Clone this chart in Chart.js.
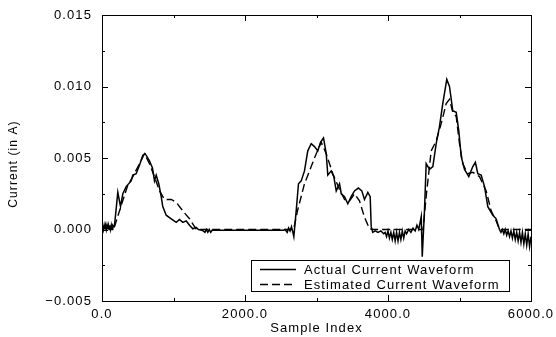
<!DOCTYPE html>
<html>
<head>
<meta charset="utf-8">
<script src="https://cdn.jsdelivr.net/npm/chart.js@4.4.1/dist/chart.umd.min.js"></script>
<style>
  html, body { margin: 0; padding: 0; background: #fff; }
  canvas { display: block; }
</style>
</head>
<body>
<canvas id="forma" width="556" height="337"></canvas>
<script>
// dados (indice da amostra -> corrente em A)
const amostraReal = [
  0, 10, 20, 30, 40, 50, 60, 70, 80, 90, 100, 110, 120, 130, 140, 150, 165,
  175, 221, 259, 291, 338, 408, 431, 478, 524, 571, 604, 664, 706, 734, 758, 794, 828, 850, 898, 968, 1038, 1084, 1130, 1178, 1224, 1270, 1317, 1350,
  1400, 1440, 1460, 1480, 1500, 1520, 1540, 2540,
  2560, 2590, 2610, 2630, 2650, 2665, 2683, 2716, 2748, 2786, 2832, 2878, 2926, 2972, 3018, 3056, 3098, 3136, 3158, 3206, 3242, 3276, 3322, 3346, 3392, 3438, 3485, 3531, 3585, 3634, 3671, 3718, 3751, 3765, 3787,
  3820, 3860, 3900, 3940, 3960, 3980, 4000, 4020, 4040, 4060, 4080, 4100, 4120, 4140, 4160, 4180, 4200, 4220, 4240, 4260, 4290, 4320, 4350, 4380, 4405, 4430, 4465, 4479,
  4510, 4534, 4581, 4627, 4674, 4720, 4766, 4822, 4860, 4906, 4954, 4990, 5024, 5070, 5130, 5186, 5222, 5256, 5303, 5350, 5396, 5466, 5513, 5559,
  5580, 5600, 5620, 5640, 5660, 5680, 5700, 5720, 5740, 5760, 5780, 5800, 5820, 5840, 5860, 5880, 5900, 5920, 5940, 5960, 5980, 6000
];
const correnteReal = [
  0.0001, 0.0003, 0.0000, 0.0003, 0.0000, 0.0003, 0.0000, 0.0003, 0.0000, 0.0003, 0.0000, 0.0003, 0.0000, 0.0003, 0.0000, 0.0003, 0.0002,
  0.0003, 0.0026, 0.0016, 0.0025, 0.0030, 0.0034, 0.0038, 0.0039, 0.0045, 0.0052, 0.0053, 0.0048, 0.0043, 0.0034, 0.0038, 0.0032, 0.0023, 0.0016, 0.0010, 0.00075, 0.0005, 0.0007, 0.0005, 0.0006, 0.0003, 0.00005, 0.00015, 0.0000,
  -0.00005, -0.0002, 0.0000, -0.0002, 0.0000, -0.0002, -0.00005, -0.00005,
  0.0000, -0.0002, 0.0001, -0.0001, 0.0002, -0.0001, -0.0005, 0.0013, 0.0032, 0.0034, 0.0041, 0.0055, 0.0060, 0.0058, 0.0055, 0.0061, 0.0064, 0.0053, 0.0038, 0.0041, 0.0037, 0.0027, 0.0032, 0.0025, 0.0023, 0.0018, 0.0023, 0.0027, 0.0029, 0.0027, 0.0021, 0.0026, 0.0023, 0.0002, -0.0002,
  -0.0001, -0.0002, -0.0001, -0.0003, -0.0002, -0.0005, -0.0001, -0.0006, -0.0002, -0.0007, -0.0002, -0.0008, -0.0002, -0.0008, -0.0002, -0.0007, -0.0001, -0.0006, -0.0001, -0.0003, 0.0000, -0.0002, 0.0001, -0.0001, 0.0003, 0.0000, 0.0009, -0.0019,
  0.0013, 0.0046, 0.0042, 0.0044, 0.0060, 0.0072, 0.0088, 0.0105, 0.0100, 0.0083, 0.0082, 0.0069, 0.0051, 0.0042, 0.0037, 0.0044, 0.0047, 0.0039, 0.0038, 0.0030, 0.0016, 0.0010, 0.00075, 0.0000,
  -0.0002, 0.0000, -0.0003, 0.0000, -0.0004, -0.0001, -0.0005, -0.0001, -0.0006, -0.0001, -0.0007, -0.0002, -0.0008, -0.0002, -0.0009, -0.0002, -0.0010, -0.0003, -0.0011, -0.0003, -0.0012, -0.0005
];

const amostraEstimada = [
  0, 175, 315, 361, 431, 524, 594, 664, 734, 804, 874, 968, 1038, 1130, 1224, 1294, 1322,
  2680, 2734, 2832, 2926, 2996, 3066, 3136, 3228, 3322, 3392, 3462, 3531, 3601, 3671, 3741, 3800,
  4490, 4538, 4604, 4674, 4744, 4814, 4860, 4906, 4954, 5000, 5046, 5116, 5186, 5280, 5373, 5443, 5513, 5559, 6000
];
const correnteEstimada = [
  0.0001, 0.0002, 0.0024, 0.0031, 0.0037, 0.0046, 0.0053, 0.0046, 0.0037, 0.0027, 0.0021, 0.0021, 0.0019, 0.0013, 0.00075, 0.0002, 0.0000,
  0.0000, 0.0013, 0.0032, 0.0044, 0.0053, 0.0061, 0.0053, 0.0039, 0.0028, 0.0021, 0.0020, 0.0025, 0.0020, 0.00086, 0.00005, 0.0000,
  0.0000, 0.0025, 0.0055, 0.0062, 0.0074, 0.0088, 0.0091, 0.0082, 0.0079, 0.0060, 0.0046, 0.0039, 0.0040, 0.0037, 0.0027, 0.0013, 0.0006, 0.0000, 0.0000
];

const nomesSeries = ["Actual Current Waveform", "Estimated Current Waveform"];
const tituloY = "Current (in A)";
const marcasX = [0, 2000, 4000, 6000];
const marcasXMenores = [1000, 3000, 5000];
const marcasY = [-0.005, 0, 0.005, 0.010, 0.015];
const marcasYMenores = [-0.0025, 0.0025, 0.0075, 0.0125];

const FONTE = "'Liberation Sans', Arial, Helvetica, sans-serif";
const ESPACO = "1.1px";

function pares(xs, ys) {
  return xs.map((x, i) => ({ x: x, y: ys[i] }));
}

// moldura com marcas para dentro nos quatro lados
const moldura = {
  id: "moldura",
  beforeDraw(chart) {
    chart.ctx.letterSpacing = ESPACO;
  },
  afterDatasetsDraw(chart) {
    const ctx = chart.ctx;
    const a = chart.chartArea;
    const sx = chart.scales.x, sy = chart.scales.y;
    ctx.save();
    ctx.strokeStyle = "#000";
    ctx.lineWidth = 1;
    ctx.strokeRect(a.left + 0.5, a.top + 0.5, a.right - a.left, a.bottom - a.top);
    ctx.beginPath();
    const marcaX = (v, len) => {
      const p = Math.round(sx.getPixelForValue(v)) + 0.5;
      ctx.moveTo(p, a.bottom); ctx.lineTo(p, a.bottom - len);
      ctx.moveTo(p, a.top); ctx.lineTo(p, a.top + len);
    };
    const marcaY = (v, len) => {
      const p = Math.round(sy.getPixelForValue(v)) + 0.5;
      ctx.moveTo(a.left, p); ctx.lineTo(a.left + len, p);
      ctx.moveTo(a.right, p); ctx.lineTo(a.right - len, p);
    };
    marcasX.forEach(v => marcaX(v, 6));
    marcasXMenores.forEach(v => marcaX(v, 3));
    marcasY.forEach(v => marcaY(v, 6));
    marcasYMenores.forEach(v => marcaY(v, 3));
    ctx.stroke();
    ctx.restore();
  }
};

// legenda em caixa no canto inferior direito + titulo do eixo y
const legenda = {
  id: "legenda",
  afterDraw(chart) {
    const ctx = chart.ctx;
    const a = chart.chartArea;
    const dir = a.right - 22, base = a.bottom - 10;
    const esq = a.left + 149, topo = base - 31;
    ctx.save();
    ctx.fillStyle = "#fff";
    ctx.fillRect(esq, topo, dir - esq, base - topo);
    ctx.strokeStyle = "#000";
    ctx.lineWidth = 1;
    ctx.strokeRect(esq + 0.5, topo + 0.5, dir - esq, base - topo);
    ctx.font = "13px " + FONTE;
    ctx.letterSpacing = ESPACO;
    ctx.fillStyle = "#000";
    ctx.textBaseline = "middle";
    chart.data.datasets.forEach((ds, i) => {
      const y = topo + 9.5 + i * 15;
      ctx.beginPath();
      ctx.lineWidth = ds.borderWidth;
      ctx.setLineDash(ds.borderDash || []);
      ctx.moveTo(esq + 9, y);
      ctx.lineTo(esq + 45, y);
      ctx.stroke();
      ctx.setLineDash([]);
      ctx.fillText(nomesSeries[i], esq + 53, y + 0.5);
    });

    ctx.font = "12px " + FONTE;
    ctx.textAlign = "center";
    ctx.translate(14, (a.top + a.bottom) / 2 + 6);
    ctx.rotate(-Math.PI / 2);
    ctx.fillText(tituloY, 0, 0);
    ctx.restore();
  }
};

Chart.defaults.color = "#000";
Chart.defaults.font.family = FONTE;

const grafico = new Chart(document.querySelector("#forma"), {
  type: "line",
  data: {
    datasets: [
      {
        label: nomesSeries[0],
        data: pares(amostraReal, correnteReal),
        borderColor: "#000",
        borderWidth: 1.5,
        pointRadius: 0,
        tension: 0,
        fill: false,
      },
      {
        label: nomesSeries[1],
        data: pares(amostraEstimada, correnteEstimada),
        borderColor: "#000",
        borderWidth: 1.4,
        borderDash: [8, 4],
        pointRadius: 0,
        tension: 0,
        fill: false,
      },
    ],
  },
  options: {
    responsive: false,
    animation: false,
    devicePixelRatio: 1,
    layout: { padding: { top: 15, right: 25, left: 0, bottom: 0 } },
    plugins: { legend: { display: false }, tooltip: { enabled: false } },
    scales: {
      x: {
        type: "linear",
        min: 0,
        max: 6000,
        grid: { display: false, drawTicks: false },
        border: { display: false },
        ticks: {
          stepSize: 2000,
          padding: 6,
          maxRotation: 0,
          font: { size: 13 },
          callback: (v) => v.toFixed(1),
        },
        title: {
          display: true,
          text: "Sample Index",
          font: { size: 13 },
          padding: { top: 0, bottom: 1 },
        },
        afterFit(s) { s.height = 36; s.paddingLeft = 0; s.paddingRight = 0; },
      },
      y: {
        min: -0.005,
        max: 0.015,
        grid: { display: false, drawTicks: false },
        border: { display: false },
        ticks: {
          stepSize: 0.005,
          padding: 10,
          font: { size: 13 },
          callback: (v) => (v < 0 ? "\u2212" : "") + Math.abs(v).toFixed(3),
        },
        afterFit(s) { s.width = 102; s.paddingTop = 0; s.paddingBottom = 0; },
      },
    },
  },
  plugins: [moldura, legenda],
});
</script>
</body>
</html>
